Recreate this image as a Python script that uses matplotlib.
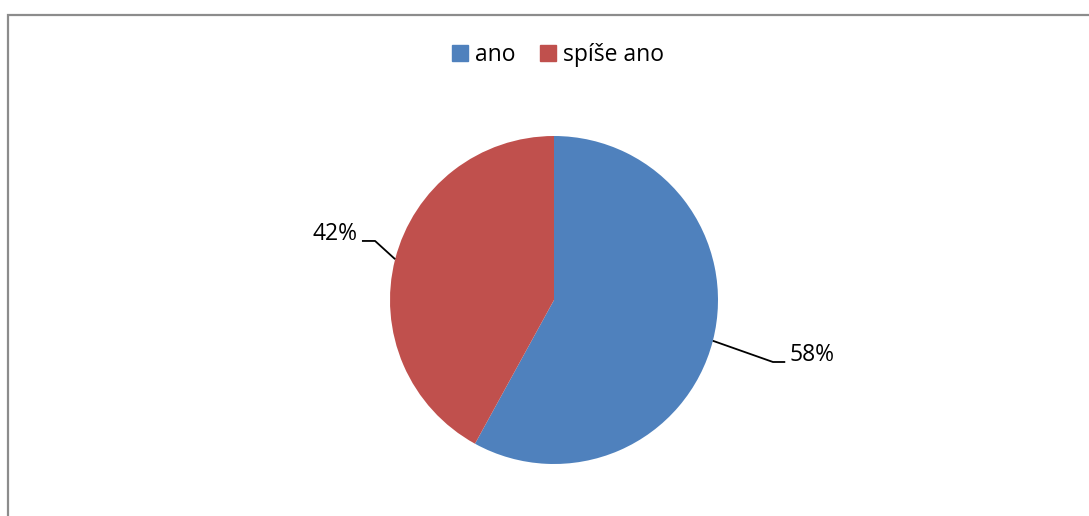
import numpy as np
import matplotlib.pyplot as plt
from matplotlib.patches import Rectangle

labels = ["ano", "spíše ano"]
values = [58, 42]
colors = ["#4F81BD", "#C0504D"]

plt.rcParams['font.family'] = ['Open Sans', 'DejaVu Sans']

W, H = 1089, 516
fig = plt.figure(figsize=(W / 100, H / 100), dpi=100)

# outer chart frame (only top and left edges visible)
fig.patches.append(Rectangle((7.5 / W, -0.1), 1.2, (H - 14.5) / H + 0.1,
                             transform=fig.transFigure, fill=False,
                             edgecolor="#8c8c8c", linewidth=1.6))

cx, cy, r = 554, 300, 164
ax = fig.add_axes([(cx - r) / W, (H - cy - r) / H, 2 * r / W, 2 * r / H])
wedges, _ = ax.pie(values, colors=colors, startangle=90, counterclock=False,
                   radius=1, wedgeprops=dict(linewidth=0))
ax.set_xlim(-1, 1)
ax.set_ylim(-1, 1)
ax.set_aspect("auto")
ax.axis("off")

# leader lines and labels
elbows = [(1.335, -0.378), (-1.091, 0.360)]
tails = [0.075, -0.08]
for w, v, (ex, ey), t in zip(wedges, values, elbows, tails):
    ang = np.deg2rad((w.theta1 + w.theta2) / 2)
    x0, y0 = np.cos(ang), np.sin(ang)
    ax.plot([x0, ex, ex + t], [y0, ey, ey], color="black", lw=1.3,
            clip_on=False, solid_capstyle="butt")
    ha = "left" if t > 0 else "right"
    ax.text(ex + t + (0.025 if t > 0 else -0.025), ey + 0.045, f"{v}%",
            ha=ha, va="center", fontsize=16.5, clip_on=False)

handles = [Rectangle((0, 0), 1, 1, color=c) for c in colors]
fig.legend(handles, labels, loc="center", bbox_to_anchor=(558 / W, 1 - 55 / H),
           ncol=2, frameon=False, fontsize=16.5, handlelength=0.7, handleheight=0.7,
           handletextpad=0.3, columnspacing=1.1)

fig.savefig("out.png", dpi=100)
